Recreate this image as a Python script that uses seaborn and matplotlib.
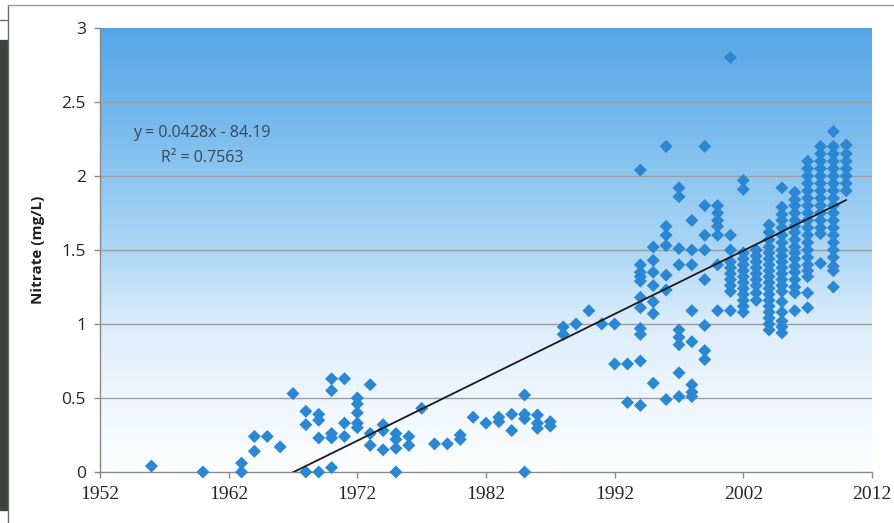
import matplotlib
matplotlib.use("Agg")
import matplotlib.pyplot as plt
from matplotlib.colors import LinearSegmentedColormap
from matplotlib.patches import Rectangle
from matplotlib.lines import Line2D
import numpy as np
import pandas as pd
import seaborn as sns

# Sampling years and the nitrate readings (mg/L) taken in each of them
sample_years = [
    1956, 1960, 1963, 1964, 1965, 1966, 1967, 1968, 1969, 1970,
    1971, 1972, 1973, 1974, 1975, 1976, 1977, 1978, 1979, 1980,
    1981, 1982, 1983, 1984, 1985, 1986, 1987, 1988, 1989, 1990,
    1991, 1992, 1993, 1994, 1995, 1996, 1997, 1998, 1999, 2000,
    2001, 2002, 2003, 2004, 2005, 2006, 2007, 2008, 2009, 2010,
]
nitrate_by_year = [
    [0.04], [0.0], [0.06, 0.0], [0.24, 0.14], [0.24], [0.17], [0.53],
    [0.41, 0.32, 0.0], [0.39, 0.35, 0.23, 0.0], [0.63, 0.55, 0.26, 0.23, 0.03],
    [0.63, 0.33, 0.24], [0.50, 0.46, 0.40, 0.33, 0.30], [0.59, 0.26, 0.18],
    [0.32, 0.28, 0.15], [0.26, 0.22, 0.16, 0.0], [0.24, 0.18], [0.43],
    [0.19], [0.19], [0.25, 0.22],
    [0.37], [0.33], [0.37, 0.34], [0.39, 0.28], [0.52, 0.39, 0.36, 0.0],
    [0.385, 0.33, 0.295], [0.34, 0.31], [0.98, 0.93], [1.0], [1.09],
    [1.0], [1.0, 0.73], [0.73, 0.47],
    [2.04, 1.40, 1.35, 1.32, 1.29, 1.18, 1.11, 0.97, 0.93, 0.75, 0.45],
    [1.52, 1.43, 1.35, 1.26, 1.15, 1.07, 0.60],
    [2.20, 1.66, 1.60, 1.53, 1.33, 1.23, 0.49],
    [1.92, 1.86, 1.51, 1.40, 0.96, 0.91, 0.86, 0.67, 0.51],
    [1.70, 1.50, 1.40, 1.09, 0.88, 0.59, 0.54, 0.51],
    [2.20, 1.80, 1.60, 1.50, 1.30, 0.99, 0.82, 0.76],
    [1.80, 1.75, 1.70, 1.66, 1.60, 1.40, 1.09],
    [2.80, 1.60, 1.50, 1.42, 1.38, 1.34, 1.30, 1.26, 1.22, 1.09],
    [1.97, 1.91, 1.48, 1.44, 1.40, 1.36, 1.32, 1.28, 1.24, 1.20, 1.16, 1.12, 1.08],
    [1.50, 1.46, 1.42, 1.38, 1.34, 1.30, 1.26, 1.21, 1.16],
    [1.67, 1.62, 1.57, 1.52, 1.48, 1.44, 1.40, 1.36, 1.32, 1.28, 1.24,
     1.20, 1.16, 1.12, 1.08, 1.04, 1.00, 0.96],
    [1.92, 1.79, 1.74, 1.70, 1.65, 1.60, 1.55, 1.50, 1.46, 1.42, 1.38,
     1.34, 1.30, 1.26, 1.22, 1.15, 1.08, 1.02, 0.98, 0.94],
    [1.89, 1.84, 1.80, 1.75, 1.70, 1.66, 1.62, 1.57, 1.52, 1.48, 1.44,
     1.39, 1.35, 1.30, 1.25, 1.21, 1.09],
    [2.10, 2.05, 2.00, 1.95, 1.90, 1.85, 1.80, 1.75, 1.70, 1.65, 1.60,
     1.55, 1.50, 1.45, 1.40, 1.36, 1.32, 1.21, 1.11],
    [2.20, 2.15, 2.10, 2.05, 2.00, 1.95, 1.90, 1.85, 1.80, 1.75, 1.70,
     1.65, 1.61, 1.41],
    [2.30, 2.20, 2.15, 2.10, 2.05, 2.00, 1.95, 1.90, 1.85, 1.80, 1.75,
     1.70, 1.65, 1.60, 1.55, 1.50, 1.45, 1.39, 1.36, 1.25],
    [2.21, 2.15, 2.10, 2.05, 2.00, 1.95, 1.90],
]

# Linear trend reported on the chart
trend_slope = 0.0428
trend_intercept = -84.19
trend_r2 = 0.7563

x_ticks = [1952, 1962, 1972, 1982, 1992, 2002, 2012]
y_ticks = [0, 0.5, 1, 1.5, 2, 2.5, 3]
y_tick_labels = ["0", "0.5", "1", "1.5", "2", "2.5", "3"]

rows = [(yr, v) for yr, vals in zip(sample_years, nitrate_by_year) for v in vals]
df = pd.DataFrame(rows, columns=["Year", "Nitrate"])

sns.set_theme(style="white")
plt.rcParams["font.family"] = ["Open Sans", "DejaVu Sans"]

fig = plt.figure(figsize=(8.95, 5.23), dpi=100)
ax = fig.add_axes([100 / 895, 1 - 472 / 523, 772 / 895, 444 / 523])
ax.set_xlim(1952, 2012)
ax.set_ylim(0, 3)

# Vertical blue-to-white gradient fill of the plot area
stops = [
    (0.00, "#fcfdff"),
    (0.17, "#eef6fd"),
    (0.33, "#dcedfa"),
    (0.40, "#c9e4f8"),
    (0.50, "#acd6f4"),
    (0.67, "#8dc6f0"),
    (0.83, "#6fb5ec"),
    (1.00, "#55a5e6"),
]
cmap = LinearSegmentedColormap.from_list("bg", stops)
grad = np.linspace(0, 1, 256).reshape(-1, 1)
ax.imshow(grad, cmap=cmap, origin="lower", aspect="auto",
          extent=[1952, 2012, 0, 3], zorder=0, interpolation="bicubic")

# Horizontal gridlines
for yv in y_ticks[1:-1]:
    ax.axhline(yv, color="#9a9ea3", lw=1.0, zorder=1)

sns.scatterplot(data=df, x="Year", y="Nitrate", marker="D", s=44,
                color="#2b87d3", edgecolor="none", linewidth=0,
                ax=ax, zorder=3, clip_on=False)

# Trend line from the reported equation
tx = np.array([1956.0, 2010.0])
ax.plot(tx, trend_slope * tx + trend_intercept, color="#1a1a1a", lw=1.3, zorder=4)

eq_font = ["Open Sans", "DejaVu Sans"]
ax.text(202 / 895, 1 - 133 / 523,
        f"y = {trend_slope}x - {abs(trend_intercept)}",
        transform=fig.transFigure, ha="center", va="center",
        fontsize=11.5, color="#3b4758", family=eq_font)
ax.text(202 / 895, 1 - 158 / 523, f"R\u00b2 = {trend_r2}",
        transform=fig.transFigure, ha="center", va="center",
        fontsize=11.5, color="#3b4758", family=eq_font)

ax.set_xticks(x_ticks)
ax.set_xticklabels([str(t) for t in x_ticks], fontsize=14, color="#262626",
                   family=["Liberation Serif", "DejaVu Serif"])
ax.set_yticks(y_ticks)
ax.set_yticklabels(y_tick_labels, fontsize=12.5, color="#262626")
ax.tick_params(axis="both", direction="out", length=4, width=1,
               color="#8a8a8a", pad=6, left=True, bottom=True)
ax.set_xlabel("")
ax.set_ylabel("Nitrate (mg/L)", fontsize=11, fontweight="bold",
              color="#1e1e1e", labelpad=12)

for side in ["top", "right"]:
    ax.spines[side].set_visible(False)
for side in ["left", "bottom"]:
    ax.spines[side].set_color("#8a8a8a")
    ax.spines[side].set_linewidth(1.0)
    ax.spines[side].set_zorder(2)

# Page edge: dark strip and frame lines along the left and top
fig.patches.append(Rectangle((0, 13 / 523), 7 / 895, 470 / 523,
                             transform=fig.transFigure, color="#3d423e",
                             zorder=0))
fig.lines.append(Line2D([8 / 895, 8 / 895], [0, 1 - 5 / 523],
                        transform=fig.transFigure, color="#6a6a6a", lw=1))
fig.lines.append(Line2D([8 / 895, 1], [1 - 5 / 523, 1 - 5 / 523],
                        transform=fig.transFigure, color="#9a9a9a", lw=1))
fig.lines.append(Line2D([0, 7 / 895], [1 - 20 / 523, 1 - 20 / 523],
                        transform=fig.transFigure, color="#6a6a6a", lw=1))

fig.savefig("out.png", dpi=100)
